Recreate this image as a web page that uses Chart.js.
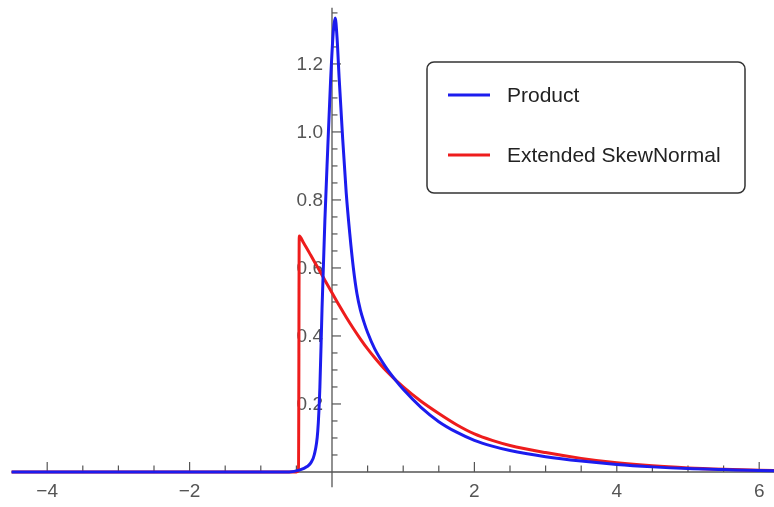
<!DOCTYPE html>
<html>
<head>
<meta charset="utf-8">
<title>Product vs Extended SkewNormal</title>
<script src="https://cdn.jsdelivr.net/npm/chart.js@4.4.1/dist/chart.umd.min.js"></script>
<style>
  html, body { margin: 0; padding: 0; background: #ffffff; }
  #wrap { width: 774px; height: 507px; }
</style>
</head>
<body>
<div id="wrap"><canvas id="chart" width="774" height="507"></canvas></div>
<script>
// Density of the product distribution
const productX = [-4.5, -0.6, -0.45, -0.35, -0.3, -0.25, -0.2, -0.17, -0.14, -0.1, -0.06, -0.02, 0.02, 0.045,
                  0.07, 0.1, 0.15, 0.2, 0.25, 0.3, 0.35, 0.4, 0.45, 0.5, 0.6, 0.75, 0.9, 1.0, 1.25, 1.5, 1.75,
                  2.0, 2.25, 2.5, 3.0, 3.5, 4.0, 4.5, 5.0, 5.5, 6.0, 6.3];
const productY = [0, 0, 0.006, 0.016, 0.026, 0.05, 0.12, 0.25, 0.48, 0.74, 0.95, 1.15, 1.3, 1.335,
                  1.28, 1.16, 0.98, 0.82, 0.7, 0.6, 0.525, 0.475, 0.44, 0.41, 0.362, 0.31, 0.268, 0.243, 0.19, 0.148, 0.117,
                  0.093, 0.076, 0.063, 0.045, 0.032, 0.022, 0.015, 0.01, 0.007, 0.004, 0.003];

// Fitted extended skew-normal density
const skewX = [-4.5, -0.5, -0.47, -0.46, -0.4, -0.3, -0.2, -0.1, 0, 0.1, 0.2, 0.3, 0.4, 0.5, 0.6, 0.75,
               1.0, 1.25, 1.5, 1.75, 2.0, 2.25, 2.5, 3.0, 3.5, 4.0, 4.5, 5.0, 5.5, 6.0, 6.3];
const skewY = [0, 0, 0.004, 0.694, 0.674, 0.638, 0.601, 0.564, 0.527, 0.49, 0.455, 0.422, 0.391, 0.362, 0.336, 0.3,
               0.25, 0.208, 0.172, 0.139, 0.112, 0.093, 0.078, 0.057, 0.04, 0.027, 0.018, 0.012, 0.008, 0.005, 0.004];

// Axis ticks
const xTickLabels = [-4, -2, 2, 4, 6];
const yTickLabels = [0.2, 0.4, 0.6, 0.8, 1.0, 1.2];
const seriesNames = ['Product', 'Extended SkewNormal'];

const BLUE = 'rgb(28, 28, 238)';
const RED = 'rgb(238, 28, 28)';
const AXIS = '#555555';
const FONT = '"Liberation Sans", Arial, sans-serif';

function toPoints(xs, ys) {
  return xs.map((x, i) => ({ x: x, y: ys[i] }));
}

// Axes drawn through the origin, Mathematica style
const originAxes = {
  id: 'originAxes',
  beforeDatasetsDraw(chart) {
    const ctx = chart.ctx;
    const sx = chart.scales.x, sy = chart.scales.y;
    const x0 = sx.getPixelForValue(0);
    const y0 = sy.getPixelForValue(0);
    ctx.save();
    ctx.strokeStyle = AXIS;
    ctx.lineWidth = 1.3;
    // horizontal axis
    ctx.beginPath();
    ctx.moveTo(sx.getPixelForValue(-4.5), y0);
    ctx.lineTo(chart.chartArea.right, y0);
    ctx.stroke();
    // vertical axis
    ctx.beginPath();
    ctx.moveTo(x0, sy.getPixelForValue(1.365));
    ctx.lineTo(x0, sy.getPixelForValue(-0.045));
    ctx.stroke();

    // x ticks every 0.5, long at labelled values
    ctx.lineWidth = 1.2;
    for (let k = -8; k <= 12; k++) {
      const v = k / 2;
      if (v === 0) continue;
      const px = sx.getPixelForValue(v);
      const len = xTickLabels.includes(v) ? 10 : 6.5;
      ctx.beginPath();
      ctx.moveTo(px, y0);
      ctx.lineTo(px, y0 - len);
      ctx.stroke();
    }
    // y ticks every 0.05, long at labelled values
    for (let k = 1; k <= 27; k++) {
      const v = k * 0.05;
      const py = sy.getPixelForValue(v);
      const major = (k % 4 === 0);
      const len = major ? 9 : 5.5;
      ctx.beginPath();
      ctx.moveTo(x0, py);
      ctx.lineTo(x0 + len, py);
      ctx.stroke();
    }

    // tick labels
    ctx.fillStyle = '#555555';
    ctx.font = '19px ' + FONT;
    ctx.textAlign = 'center';
    ctx.textBaseline = 'top';
    xTickLabels.forEach(v => {
      const label = String(v).replace('-', '\u2212');
      ctx.fillText(label, sx.getPixelForValue(v), y0 + 10);
    });
    ctx.textAlign = 'right';
    ctx.textBaseline = 'middle';
    yTickLabels.forEach(v => {
      ctx.fillText(v.toFixed(1), x0 - 9, sy.getPixelForValue(v) + 1);
    });
    ctx.restore();
  }
};

// Framed legend in the upper right
const boxLegend = {
  id: 'boxLegend',
  afterDraw(chart) {
    const ctx = chart.ctx;
    const left = 427, top = 62, w = 318, h = 131, r = 7;
    ctx.save();
    ctx.beginPath();
    ctx.moveTo(left + r, top);
    ctx.lineTo(left + w - r, top);
    ctx.arcTo(left + w, top, left + w, top + r, r);
    ctx.lineTo(left + w, top + h - r);
    ctx.arcTo(left + w, top + h, left + w - r, top + h, r);
    ctx.lineTo(left + r, top + h);
    ctx.arcTo(left, top + h, left, top + h - r, r);
    ctx.lineTo(left, top + r);
    ctx.arcTo(left, top, left + r, top, r);
    ctx.closePath();
    ctx.fillStyle = '#ffffff';
    ctx.fill();
    ctx.strokeStyle = '#333333';
    ctx.lineWidth = 1.5;
    ctx.stroke();

    const rows = [95, 155];
    chart.data.datasets.forEach((ds, i) => {
      const y = rows[i];
      ctx.strokeStyle = ds.borderColor;
      ctx.lineWidth = 3;
      ctx.beginPath();
      ctx.moveTo(448, y);
      ctx.lineTo(490, y);
      ctx.stroke();
      ctx.fillStyle = '#222222';
      ctx.font = '21px ' + FONT;
      ctx.textAlign = 'left';
      ctx.textBaseline = 'middle';
      ctx.fillText(ds.label, 507, y + 1);
    });
    ctx.restore();
  }
};

new Chart(document.getElementById('chart'), {
  type: 'line',
  data: {
    datasets: [
      {
        label: seriesNames[0],
        data: toPoints(productX, productY),
        borderColor: BLUE,
        borderWidth: 3,
        pointRadius: 0,
        cubicInterpolationMode: 'monotone',
        fill: false
      },
      {
        label: seriesNames[1],
        data: toPoints(skewX, skewY),
        borderColor: RED,
        borderWidth: 3,
        pointRadius: 0,
        cubicInterpolationMode: 'monotone',
        fill: false
      }
    ]
  },
  options: {
    responsive: false,
    animation: false,
    layout: { padding: 0 },
    plugins: {
      legend: { display: false },
      tooltip: { enabled: false }
    },
    scales: {
      x: { type: 'linear', display: false, min: -4.663, max: 6.208 },
      y: { type: 'linear', display: false, min: -0.103, max: 1.388 }
    }
  },
  plugins: [originAxes, boxLegend]
});
</script>
</body>
</html>
